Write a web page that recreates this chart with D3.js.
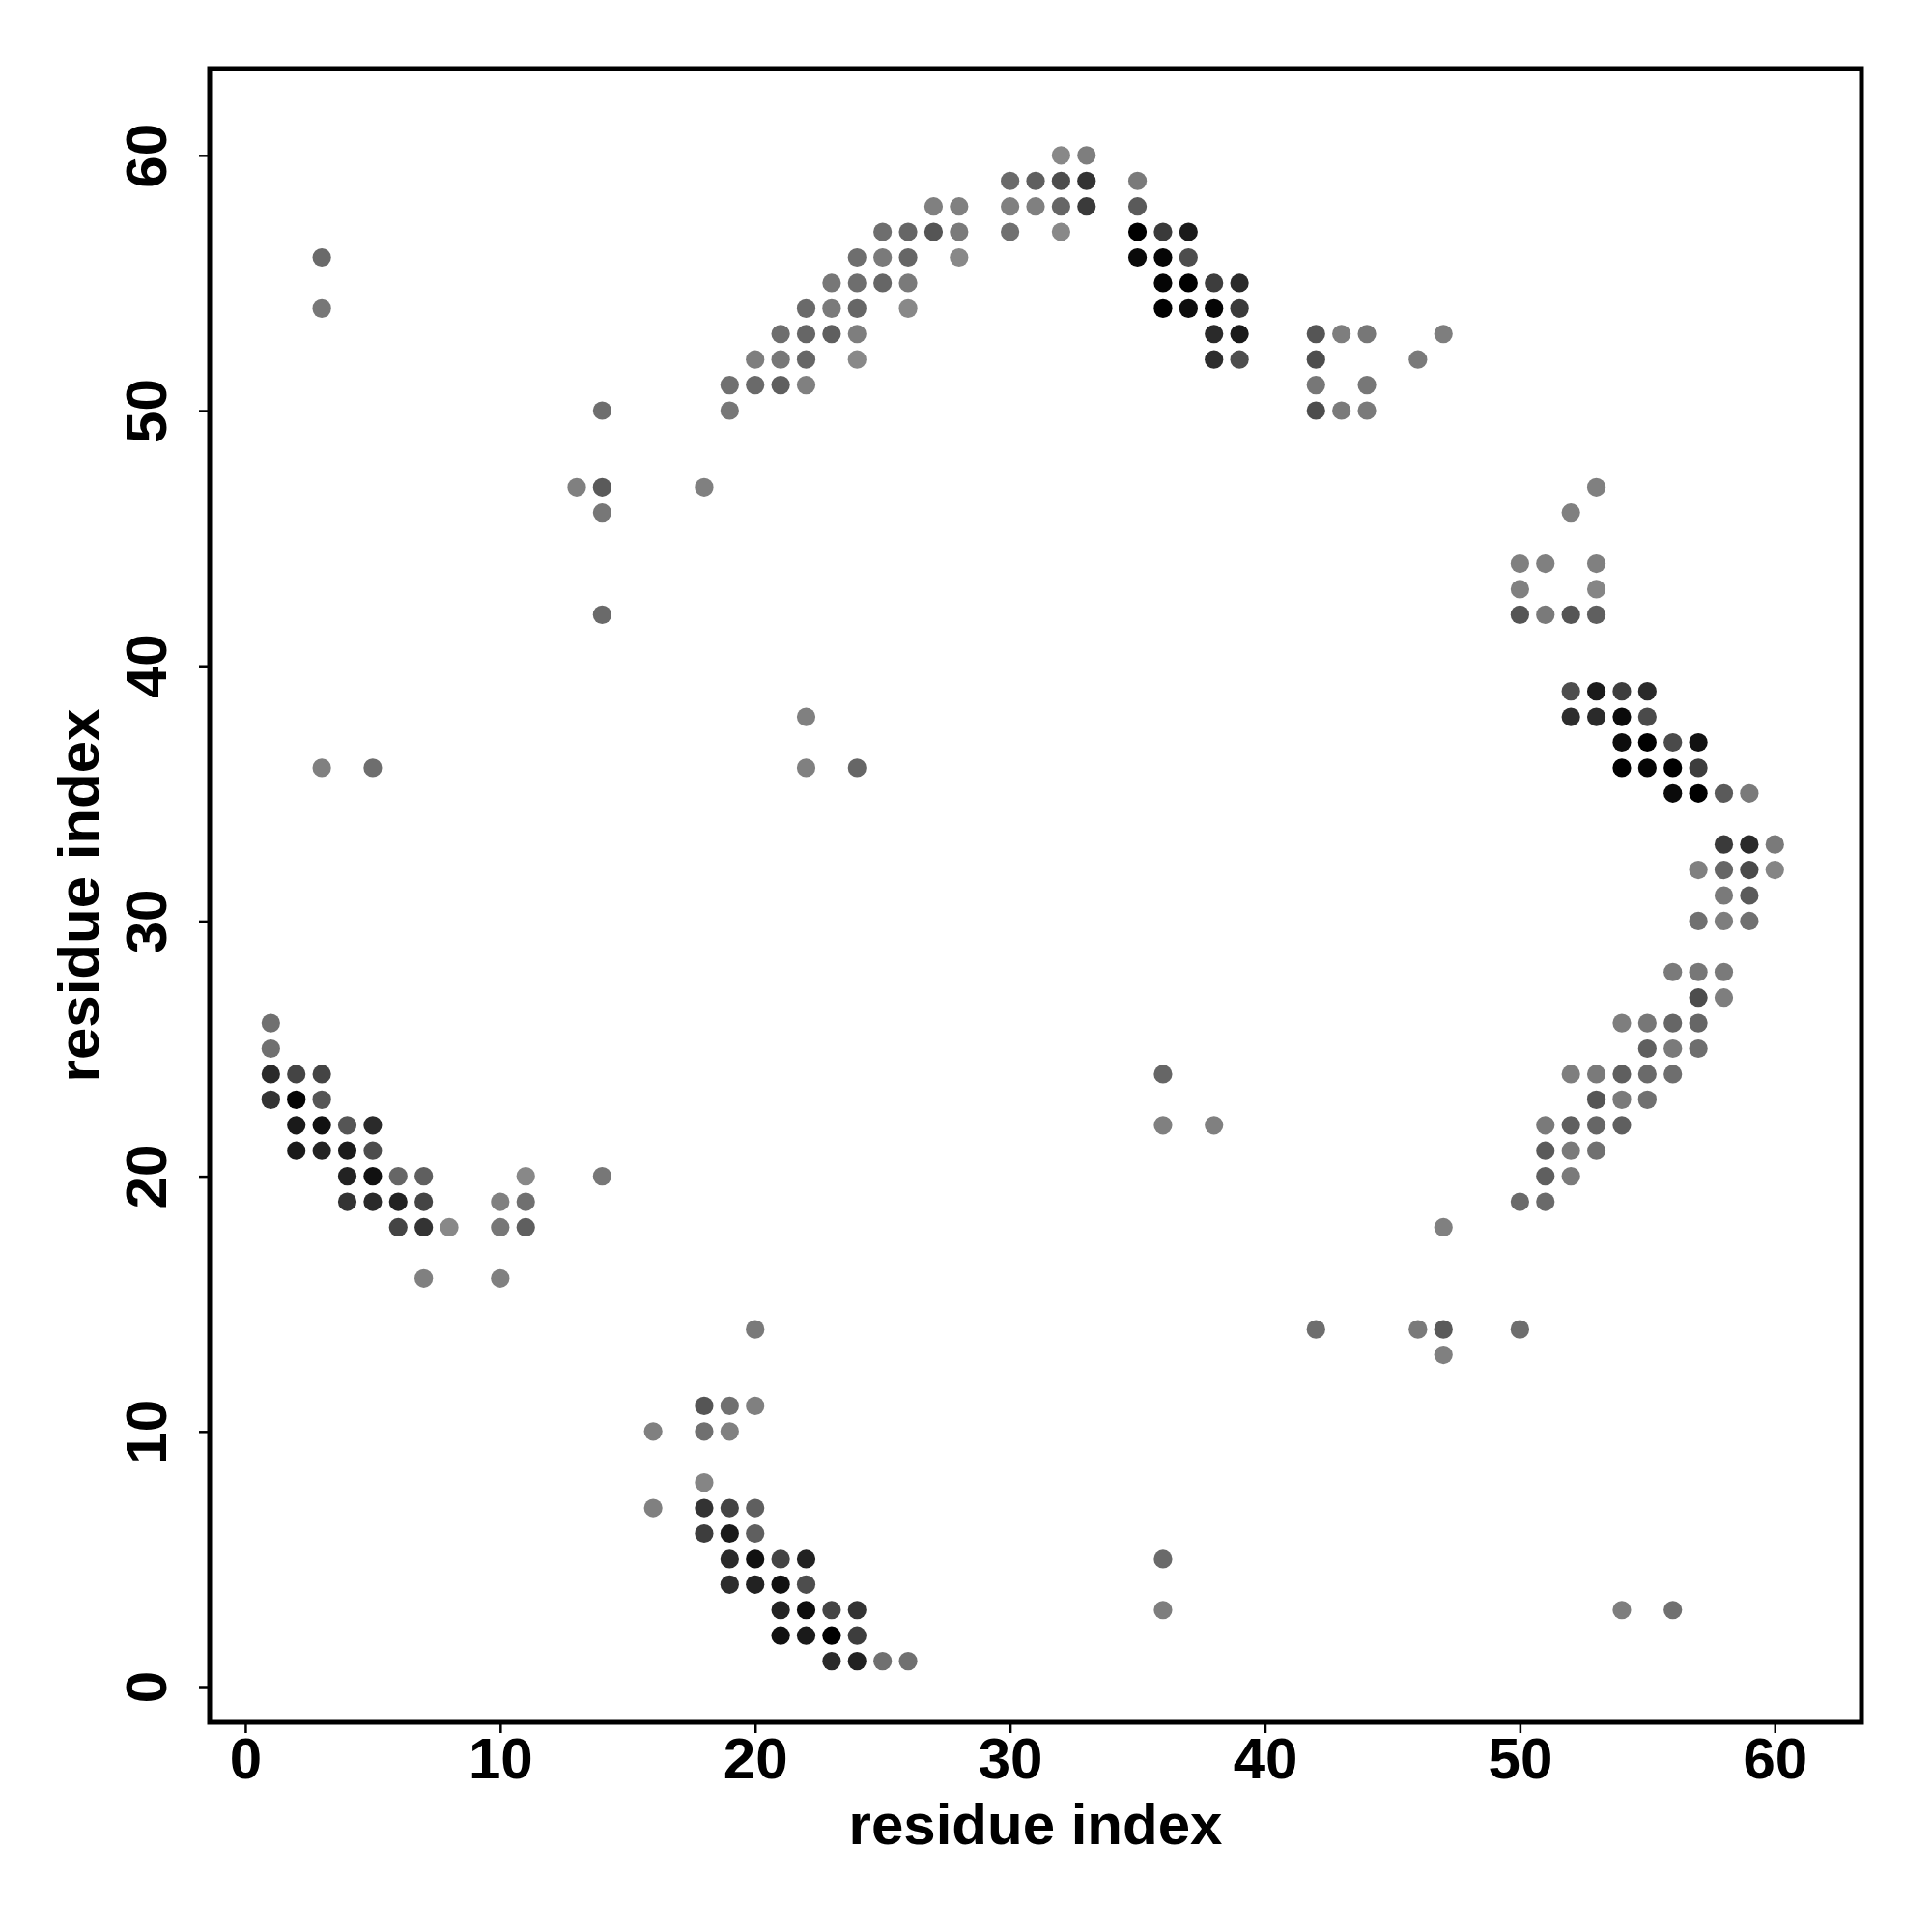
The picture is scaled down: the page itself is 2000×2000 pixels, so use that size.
<!DOCTYPE html>
<html>
<head>
<meta charset="utf-8">
<script src="https://cdn.jsdelivr.net/npm/d3@7"></script>
<style>
  html, body { margin: 0; padding: 0; background: #fff; }
  svg text { font-family: "Liberation Sans", Arial, Helvetica, sans-serif; font-weight: bold; }
</style>
</head>
<body>
<svg id="chart" width="2000" height="2000"></svg>
<script>
// Contact points: [residue i (x), residue j (y), gray level 0..255]
const contacts = [
  [32,60,136],[33,60,126],
  [30,59,106],[31,59,95],[32,59,77],[33,59,51],[35,59,122],
  [27,58,128],[28,58,128],[30,58,128],[31,58,128],[32,58,102],[33,58,58],[35,58,90],
  [25,57,110],[26,57,102],[27,57,85],[28,57,122],[30,57,112],[32,57,136],[35,57,0],[36,57,58],[37,57,26],
  [24,56,110],[25,56,122],[26,56,102],[28,56,136],[35,56,10],[36,56,5],[37,56,77],
  [23,55,119],[24,55,110],[25,55,102],[26,55,122],[36,55,5],[37,55,0],[38,55,61],[39,55,42],
  [22,54,106],[23,54,122],[24,54,102],[26,54,136],[36,54,0],[37,54,13],[38,54,5],[39,54,58],
  [21,53,110],[22,53,102],[23,53,95],[24,53,126],[38,53,42],[39,53,26],
  [20,52,126],[21,52,119],[22,52,102],[24,52,136],[38,52,45],[39,52,77],
  [19,51,112],[20,51,106],[21,51,95],[22,51,128],
  [19,50,119],
  [42,53,85],[43,53,126],[44,53,119],[47,53,126],[42,52,77],[46,52,122],[42,51,119],[44,51,119],
  [42,50,77],[43,50,122],[44,50,122],
  [53,47,128],[52,46,128],[50,44,128],[51,44,128],[53,44,128],[50,43,128],[53,43,133],
  [50,42,85],[51,42,122],[52,42,85],[53,42,95],
  [52,39,77],[53,39,26],[54,39,61],[55,39,42],
  [52,38,45],[53,38,42],[54,38,10],[55,38,74],
  [54,37,13],[55,37,0],[56,37,74],[57,37,17],
  [54,36,0],[55,36,5],[56,36,0],[57,36,61],
  [56,35,10],[57,35,0],[58,35,90],[59,35,122],
  [58,33,58],[59,33,42],[60,33,122],
  [57,32,128],[58,32,102],[59,32,74],[60,32,133],
  [58,31,122],[59,31,90],
  [57,30,112],[58,30,126],[59,30,112],
  [56,28,122],[57,28,119],[58,28,122],
  [57,27,77],[58,27,126],
  [54,26,126],[55,26,119],[56,26,102],[57,26,102],
  [55,25,95],[56,25,122],[57,25,110],
  [52,24,126],[53,24,122],[54,24,95],[55,24,106],[56,24,110],
  [53,23,85],[54,23,122],[55,23,112],
  [51,22,122],[52,22,95],[53,22,102],[54,22,95],
  [51,21,90],[52,21,122],[53,21,112],
  [51,20,95],[52,20,122],
  [50,19,106],[51,19,106],
  [1,26,112],[1,25,112],
  [1,24,42],[2,24,68],[3,24,68],
  [1,23,51],[2,23,5],[3,23,85],
  [2,22,26],[3,22,17],[4,22,85],[5,22,42],
  [2,21,26],[3,21,34],[4,21,26],[5,21,77],
  [4,20,34],[5,20,17],[6,20,102],[7,20,95],[11,20,136],
  [4,19,51],[5,19,42],[6,19,34],[7,19,68],[10,19,128],[11,19,112],
  [6,18,68],[7,18,51],[8,18,136],[10,18,119],[11,18,95],
  [7,16,128],[10,16,128],
  [20,14,122],
  [18,11,85],[19,11,112],[20,11,128],
  [16,10,128],[18,10,112],[19,10,128],
  [18,8,133],
  [16,7,128],[18,7,51],[19,7,68],[20,7,95],
  [18,6,61],[19,6,26],[20,6,95],
  [19,5,42],[20,5,17],[21,5,68],[22,5,34],
  [19,4,45],[20,4,34],[21,4,17],[22,4,77],
  [21,3,34],[22,3,13],[23,3,68],[24,3,51],
  [21,2,17],[22,2,26],[23,2,0],[24,2,61],
  [23,1,42],[24,1,34],[25,1,112],[26,1,112],
  [3,56,106],[3,54,119],[14,50,110],[13,47,128],[14,47,90],[14,46,119],[18,47,128],[14,42,106],
  [36,24,102],[36,22,128],[38,22,128],[47,18,128],[42,14,110],[46,14,122],[47,14,90],[47,13,128],[50,14,110],
  [3,36,128],[5,36,110],[22,38,128],[22,36,128],[24,36,102],
  [36,5,106],[36,3,126],[54,3,126],[56,3,112],[14,20,119]
];
const xTicks = [0, 10, 20, 30, 40, 50, 60];
const yTicks = [0, 10, 20, 30, 40, 50, 60];
const xTitle = "residue index";
const yTitle = "residue index";

const svg = d3.select("#chart");
const box = { left: 217, right: 1927, top: 71, bottom: 1783 };
const dom = [-1.4, 63.4];

const x = d3.scaleLinear().domain(dom).range([box.left, box.right]);
const y = d3.scaleLinear().domain(dom).range([box.bottom, box.top]);

// points
svg.append("g")
  .selectAll("circle")
  .data(contacts)
  .join("circle")
  .attr("cx", d => x(d[0]))
  .attr("cy", d => y(d[1]))
  .attr("r", 9.6)
  .attr("fill", d => d3.rgb(d[2], d[2], d[2]).toString());

// box
svg.append("rect")
  .attr("x", box.left).attr("y", box.top)
  .attr("width", box.right - box.left).attr("height", box.bottom - box.top)
  .attr("fill", "none").attr("stroke", "#000").attr("stroke-width", 5);

// x axis
const gx = svg.append("g")
  .attr("transform", `translate(0,${box.bottom})`)
  .call(d3.axisBottom(x).tickValues(xTicks).tickSize(11).tickPadding(4).tickFormat(d3.format("d")));
gx.select(".domain").remove();
gx.selectAll(".tick line").attr("stroke-width", 2.5).attr("stroke", "#000");
gx.selectAll(".tick text").attr("font-size", 60).attr("fill", "#000")
  .attr("font-family", "Liberation Sans, Arial, sans-serif").attr("font-weight", "bold");

// y axis
const gy = svg.append("g")
  .attr("transform", `translate(${box.left},0)`)
  .call(d3.axisLeft(y).tickValues(yTicks).tickSize(11).tickFormat(d3.format("d")));
gy.select(".domain").remove();
gy.selectAll(".tick line").attr("stroke-width", 2.5).attr("stroke", "#000");
gy.selectAll(".tick text")
  .attr("font-size", 60).attr("fill", "#000")
  .attr("font-family", "Liberation Sans, Arial, sans-serif").attr("font-weight", "bold")
  .attr("x", 0).attr("y", -45).attr("dy", null)
  .attr("text-anchor", "middle")
  .attr("transform", "rotate(-90)");

// titles
svg.append("text")
  .attr("x", (box.left + box.right) / 2).attr("y", 1909)
  .attr("text-anchor", "middle").attr("font-size", 60).attr("fill", "#000")
  .text(xTitle);

svg.append("text")
  .attr("transform", `translate(102,${(box.top + box.bottom) / 2}) rotate(-90)`)
  .attr("text-anchor", "middle").attr("font-size", 60).attr("fill", "#000")
  .text(yTitle);
</script>
</body>
</html>
